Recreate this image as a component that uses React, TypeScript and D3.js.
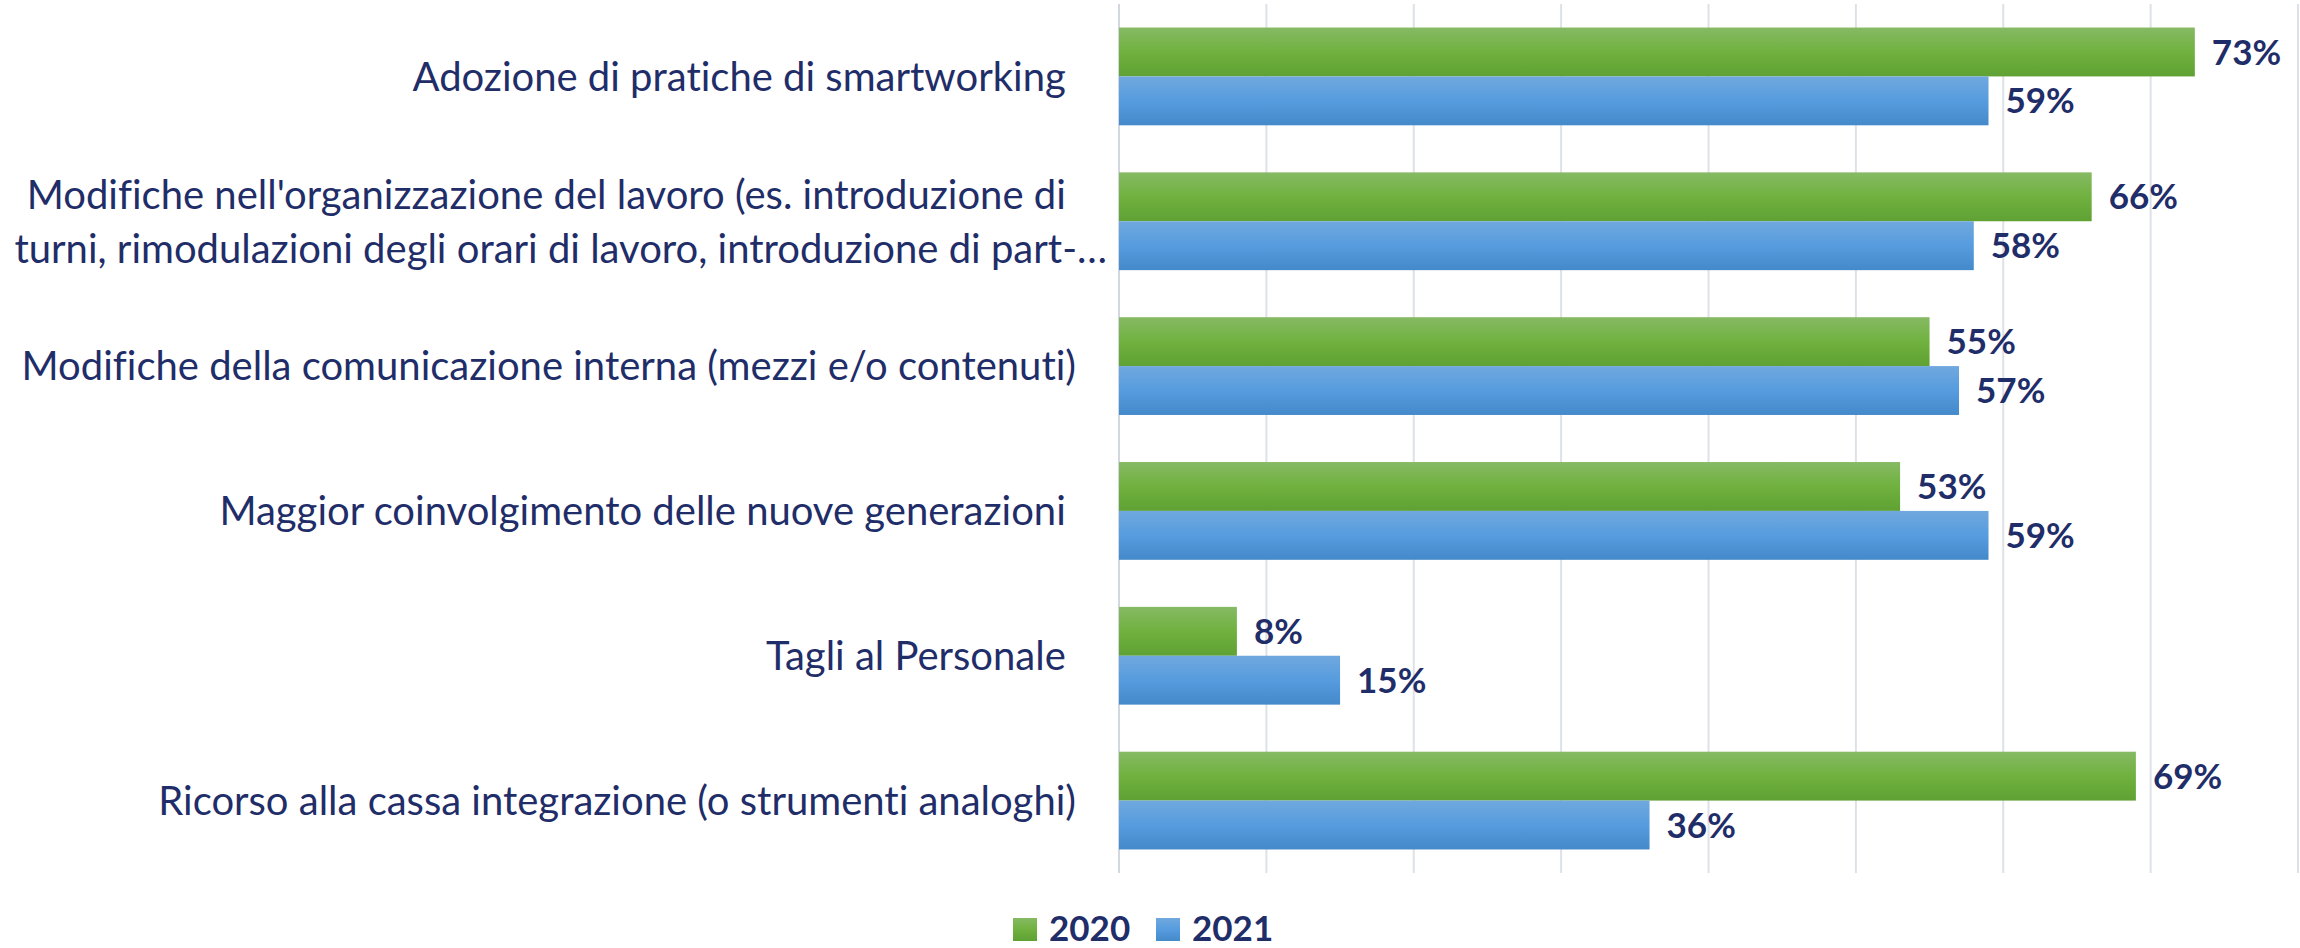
import React, { useEffect, useRef } from 'react';
import * as d3 from 'd3';

// categories (top to bottom), with the trailing spaces they have in the source sheet
const categories = [
  'Adozione di pratiche di smartworking ',
  "Modifiche nell'organizzazione del lavoro (es. introduzione di turni, rimodulazioni degli orari di lavoro, introduzione di part-time)",
  'Modifiche della comunicazione interna (mezzi e/o contenuti)',
  'Maggior coinvolgimento delle nuove generazioni ',
  'Tagli al Personale ',
  'Ricorso alla cassa integrazione (o strumenti analoghi)',
];
// how the long label is wrapped / cut on the chart
const labelLines = [
  ['Adozione di pratiche di smartworking '],
  ["Modifiche nell'organizzazione del lavoro (es. introduzione di ", 'turni, rimodulazioni degli orari di lavoro, introduzione di part-…'],
  ['Modifiche della comunicazione interna (mezzi e/o contenuti)'],
  ['Maggior coinvolgimento delle nuove generazioni '],
  ['Tagli al Personale '],
  ['Ricorso alla cassa integrazione (o strumenti analoghi)'],
];
const seriesNames = ['2020', '2021'];
const values2020 = [73, 66, 55, 53, 8, 69];
const values2021 = [59, 58, 57, 59, 15, 36];
const xTicks = [0, 10, 20, 30, 40, 50, 60, 70, 80];

const W = 2300;
const H = 948;
const navy = '#1F2D69';

const App = () => {
  const ref = useRef(null);

  useEffect(() => {
    document.body.style.margin = '0';
    const root = d3.select(ref.current);
    root.selectAll('*').remove();
    const svg = root
      .append('svg')
      .attr('width', W)
      .attr('height', H)
      .style('display', 'block')
      .style('font-variant-ligatures', 'none');

    const defs = svg.append('defs');
    const grads = [
      ['g2020', ['#86BA64', '#70B13F', '#5FA133']],
      ['g2021', ['#70A8DE', '#569CDE', '#4489CA']],
    ];
    grads.forEach(([id, stops]) => {
      const g = defs.append('linearGradient').attr('id', id).attr('x1', 0).attr('y1', 0).attr('x2', 0).attr('y2', 1);
      (stops as string[]).forEach((c, i) => g.append('stop').attr('offset', `${i * 50}%`).attr('stop-color', c));
    });

    const x = d3.scaleLinear().domain([0, 80]).range([1119, 2298]);
    const y = d3.scaleBand().domain(categories).range([4, 873]).paddingInner(0.325).paddingOuter(0.1625);
    const sub = d3.scaleBand().domain(seriesNames).range([0, y.bandwidth()]);

    // gridlines
    svg
      .append('g')
      .selectAll('line')
      .data(xTicks)
      .join('line')
      .attr('x1', (d) => x(d))
      .attr('x2', (d) => x(d))
      .attr('y1', 4)
      .attr('y2', 873)
      .attr('stroke', (d) => (d === 0 ? '#D3D8E0' : '#DDE1E8'))
      .attr('stroke-width', 2);

    const series = [
      { name: '2020', values: values2020, fill: 'url(#g2020)' },
      { name: '2021', values: values2021, fill: 'url(#g2021)' },
    ];

    series.forEach((s) => {
      const g = svg.append('g');
      g.selectAll('rect')
        .data(s.values)
        .join('rect')
        .attr('x', x(0))
        .attr('y', (d, i) => y(categories[i]) + sub(s.name))
        .attr('width', (d) => x(d) - x(0))
        .attr('height', sub.bandwidth())
        .attr('fill', s.fill);

      g.selectAll('text')
        .data(s.values)
        .join('text')
        .attr('x', (d) => x(d) + 17)
        .attr('y', (d, i) => y(categories[i]) + sub(s.name) + sub.bandwidth() / 2)
        .attr('dy', '0.36em')
        .attr('fill', navy)
        .style('font-family', 'Lato')
        .style('font-weight', 'bold')
        .style('font-size', '35px')
        .text((d) => `${d}%`);
    });

    // category labels
    const labels = svg.append('g').style('font-family', 'Lato').style('font-size', '40px').attr('fill', navy);
    categories.forEach((c, i) => {
      const lines = labelLines[i];
      const cy = y(c) + y.bandwidth() / 2;
      lines.forEach((ln, j) => {
        labels
          .append('text')
          .attr('x', j === 1 ? 1107 : 1076)
          .attr('y', cy + (j - (lines.length - 1) / 2) * 54)
          .attr('dy', '0.36em')
          .attr('text-anchor', 'end')
          .style('white-space', 'pre')
          .text(ln);
      });
    });

    // legend
    const legend = svg.append('g').style('font-family', 'Lato').style('font-weight', 'bold').style('font-size', '35px');
    const legendX = [1013, 1156];
    series.forEach((s, i) => {
      legend.append('rect').attr('x', legendX[i]).attr('y', 918).attr('width', 24).attr('height', 23).attr('fill', s.fill);
      legend
        .append('text')
        .attr('x', legendX[i] + 36)
        .attr('y', 941)
        .attr('fill', navy)
        .text(s.name);
    });
  }, []);

  return <div ref={ref}></div>;
};

export default App;
